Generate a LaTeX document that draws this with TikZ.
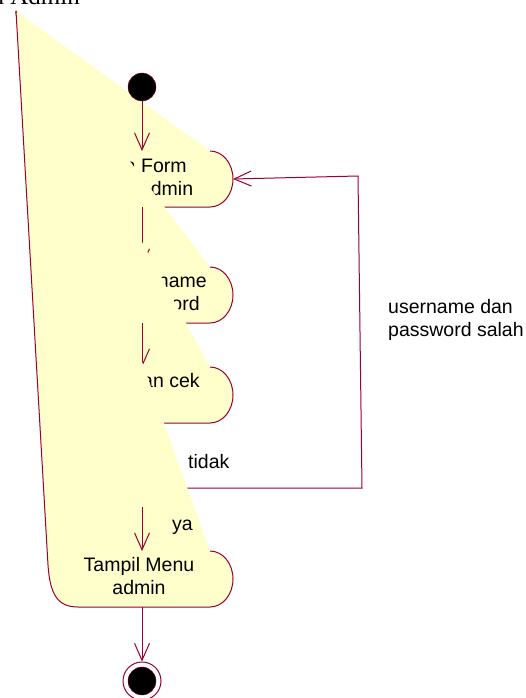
\documentclass[tikz,border=0pt]{standalone}
\usepackage{fontspec}
\setmainfont{Liberation Sans}
\newfontfamily\titlefont{Liberation Serif}
\usetikzlibrary{arrows.meta,positioning}
\definecolor{roseline}{RGB}{153,0,51}
\definecolor{rosefill}{RGB}{255,255,204}

\begin{document}
\begin{tikzpicture}[x=1pt, y=-1pt,
  actfill/.style={fill=rosefill},
  actline/.style={draw=roseline, line width=1pt},
  flow/.style={draw=roseline, line width=1pt, -{Straight Barb[length=17pt,width=15pt]}},
  txt/.style={font=\fontsize{19.5}{23}\selectfont, align=center, inner sep=0pt},
  dot/.style={circle, fill=black, draw=roseline, minimum size=28pt, inner sep=0pt}]
\useasboundingbox (0,0) rectangle (525,698);

\coordinate (apex) at (16,11);
\node[font=\titlefont\fontsize{25}{30}\selectfont, anchor=base east, inner sep=0pt] (title) at (80,5) {Login Admin};

% activity 1
\fill[actfill] (apex) -- (210,151) arc[start angle=-90, end angle=90, x radius=23, y radius=28] -- (55,207) -- cycle;
\draw[actline] (210,151) arc[start angle=-90, end angle=90, x radius=23, y radius=28] -- (55,207) -- (apex);
\node[txt, anchor=north] (formlogin) at (139,158) {Buka Form\\Login Admin};
\coordinate (b1n) at (142,151);
\coordinate (b1e) at (233,179);
\coordinate (b1s) at (142,207);

\node[dot] (start) at (142,87) {};
\draw[flow] (start) -- (b1n);

% activity 2
\fill[actfill] (apex) -- (210,267) arc[start angle=-90, end angle=90, x radius=23, y radius=28] -- (55,323) -- cycle;
\draw[actline] (210,267) arc[start angle=-90, end angle=90, x radius=23, y radius=28] -- (55,323) -- (apex);
\node[txt, anchor=north] (inputuser) at (139,274) {Input username\\dan password};
\coordinate (b2n) at (142,267);
\coordinate (b2s) at (142,323);
\draw[flow] (b1s) -- (b2n);

% activity 3
\fill[actfill] (apex) -- (210,367) arc[start angle=-90, end angle=90, x radius=23, y radius=28] -- (55,423) -- cycle;
\draw[actline] (210,367) arc[start angle=-90, end angle=90, x radius=23, y radius=28] -- (55,423) -- (apex);
\node[txt, anchor=north] (cekuser) at (139,373) {Login dan cek};
\coordinate (b3n) at (142,367);
\draw[flow] (b2s) -- (b3n);

% back to the form
\coordinate (decide) at (142,488);
\draw[flow] (decide) -- (362,488) -- (358,176) -- (b1e);

% activity 4
\fill[actfill] (apex) -- (210,551) arc[start angle=-90, end angle=90, x radius=23, y radius=28] -- (78,607) .. controls (58,607) and (50,595) .. (48,565) -- cycle;
\draw[actline] (210,551) arc[start angle=-90, end angle=90, x radius=23, y radius=28] -- (78,607) .. controls (58,607) and (50,595) .. (48,565) -- (apex);
\node[txt, anchor=north] (menuadmin) at (139,557) {Tampil Menu\\admin};
\coordinate (b4n) at (142,551);
\coordinate (b4s) at (142,607);

\coordinate (yafrom) at (142,507);
\draw[flow] (yafrom) -- (b4n);
\node[txt, anchor=base west] (ya) at (172,530) {ya};
\node[txt, anchor=base west] (tidak) at (188,468) {tidak};
\node[txt, align=left, anchor=north west] (salah) at (388,299) {username dan\\password salah};

\node[circle, draw=roseline, fill=white, line width=1pt, minimum size=38pt, inner sep=0pt] (stop) at (142,681) {};
\node[dot] (stopdot) at (stop) {};
\draw[flow] (b4s) -- (stop);
\end{tikzpicture}
\end{document}
